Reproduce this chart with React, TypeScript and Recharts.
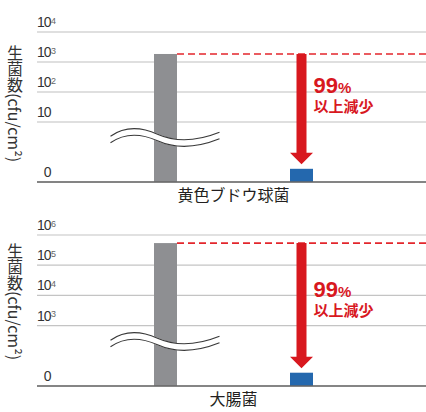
import React from 'react';
import { BarChart, Bar, XAxis, YAxis, CartesianGrid } from 'recharts';

const W = 426;
const H = 206;

// one panel per organism
const organisms = ['黄色ブドウ球菌', '大腸菌'];
// counts before treatment (grey bars), cfu/cm²
const beforeCounts = [1850, 540000];
// counts after treatment (blue bars), inside the broken part of the axis
const afterCounts = [2.2, 220];
// value on the first gridline above the axis break
const breakCounts = [10, 1000];
// axis levels: 0, the break value, then one level per decade
const tickLevels = [0, 2, 3, 4, 5];
const tickLabels = [
  ['0', '10', '10^2', '10^3', '10^4'],
  ['0', '10^3', '10^4', '10^5', '10^6'],
];
const reduction = '99';
const reductionNote = '以上減少';
const axisTitle = '生菌数(cfu/cm²)';

// panel layout
const panels = [
  { top: 32, xAxisH: 24, grid: '#d4d4d4', gridW: 1.6, titleTop: 45 },
  { top: 29, xAxisH: 26, grid: '#c4c4c4', gridW: 1.2, titleTop: 37 },
];

const GREY = '#8e8f92';
const BLUE = '#2468ae';
const RED = '#d8181f';
const NUM_FONT = "'Liberation Sans', Arial, sans-serif";
const JP_FONT = "'Noto Sans CJK JP', sans-serif";

// position on the broken axis
const toLevel = (v: number, brk: number) =>
  v >= brk ? 2 + Math.log10(v / brk) : (2 * v) / brk;

const GreyBar = (props: any) => {
  const { x, y, width, height, fill } = props;
  const base = y + height;
  const cx = x + width / 2;
  const wy = base - 44.5;
  const wave = `M ${cx - 55} ${wy + 2} Q ${cx - 35} ${wy - 12} ${cx - 8} ${wy} T ${cx + 54} ${wy - 2}`;
  return (
    <g>
      <rect x={x} y={y} width={width} height={height} fill={fill} />
      <path d={wave} stroke="#fff" strokeWidth={7} fill="none" />
      <path d={wave} transform="translate(0,-3.3)" stroke="#3a3a3a" strokeWidth={1.1} fill="none" />
      <path d={wave} transform="translate(0,3.3)" stroke="#3a3a3a" strokeWidth={1.1} fill="none" />
      <line x1={x + width} x2={W} y1={y} y2={y} stroke="#e3262c" strokeWidth={1.6} strokeDasharray="7 4" />
    </g>
  );
};

const BlueBar = (props: any) => {
  const { x, y, width, height, fill, payload } = props;
  const base = y + height;
  const unit = height / payload.after;
  const top = base - payload.before * unit;
  const cx = x + width / 2;
  const tip = y - 4.5;
  const headH = 11.5;
  const headW = width / 2;
  const sh = 5;
  const pts = [
    [cx - sh, top],
    [cx + sh, top],
    [cx + sh, tip - headH],
    [cx + headW, tip - headH],
    [cx, tip],
    [cx - headW, tip - headH],
    [cx - sh, tip - headH],
  ]
    .map((p) => p.join(','))
    .join(' ');
  return (
    <g>
      <rect x={x} y={y} width={width} height={height} fill={fill} />
      <polygon points={pts} fill={RED} />
      <text x={cx + 12} y={base - 89} fill={RED} fontWeight={700}>
        <tspan fontFamily={NUM_FONT} fontSize={22}>{reduction}</tspan>
        <tspan fontFamily={NUM_FONT} fontSize={15}>%</tspan>
        <tspan x={cx + 12} dy={19} fontFamily={JP_FONT} fontSize={15}>
          {reductionNote}
        </tspan>
      </text>
    </g>
  );
};

const makeYTick = (labels: string[]) => (props: any) => {
  const { x, y, payload } = props;
  const i = tickLevels.indexOf(payload.value);
  const [base, exp] = (labels[i] || '').split('^');
  return (
    <g>
      <text x={x + 13.5} y={y - 5} textAnchor="end" fontSize={14} letterSpacing={-1} fill="#333" fontFamily={NUM_FONT}>
        {base}
      </text>
      {exp && (
        <text x={x + 14} y={y - 8.5} fontSize={9} fill="#666" fontFamily={NUM_FONT}>
          {exp}
        </text>
      )}
    </g>
  );
};

const XTick = (props: any) => {
  const { x, y, payload } = props;
  return (
    <text x={x} y={y + 19} textAnchor="middle" fontSize={16} fill="#231f20" fontFamily={JP_FONT}>
      {payload.value}
    </text>
  );
};

const Panel = ({ idx }: { idx: number }) => {
  const p = panels[idx];
  const data = [
    {
      name: organisms[idx],
      before: toLevel(beforeCounts[idx], breakCounts[idx]),
      after: toLevel(afterCounts[idx], breakCounts[idx]),
    },
  ];
  return (
    <div style={{ position: 'relative', width: W, height: H }}>
      <BarChart width={W} height={H} data={data} margin={{ top: p.top, right: 0, bottom: 0, left: 0 }} barSize={23} barGap={113}>
        <CartesianGrid vertical={false} stroke={p.grid} strokeWidth={p.gridW} />
        <XAxis
          dataKey="name"
          height={p.xAxisH}
          tickLine={false}
          tickSize={0}
          tickMargin={0}
          axisLine={{ stroke: '#666', strokeWidth: 1.5 }}
          padding={{ left: 4, right: 0 }}
          tick={<XTick />}
        />
        <YAxis
          type="number"
          domain={[0, 5]}
          ticks={tickLevels}
          interval={0}
          width={37}
          axisLine={false}
          tickLine={false}
          tickSize={0}
          tickMargin={0}
          tick={makeYTick(tickLabels[idx])}
        />
        <Bar dataKey="before" fill={GREY} shape={<GreyBar />} isAnimationActive={false} />
        <Bar dataKey="after" fill={BLUE} shape={<BlueBar />} isAnimationActive={false} />
      </BarChart>
      <div
        style={{
          position: 'absolute',
          left: 7,
          top: p.titleTop,
          writingMode: 'vertical-rl',
          fontSize: 16,
          lineHeight: 1,
          fontFamily: JP_FONT,
          color: '#333',
        }}
      >
        {axisTitle}
      </div>
    </div>
  );
};

export default function App() {
  return (
    <div style={{ position: 'absolute', left: 0, top: 0, width: W, height: 412, background: '#fff' }}>
      <Panel idx={0} />
      <Panel idx={1} />
    </div>
  );
}
